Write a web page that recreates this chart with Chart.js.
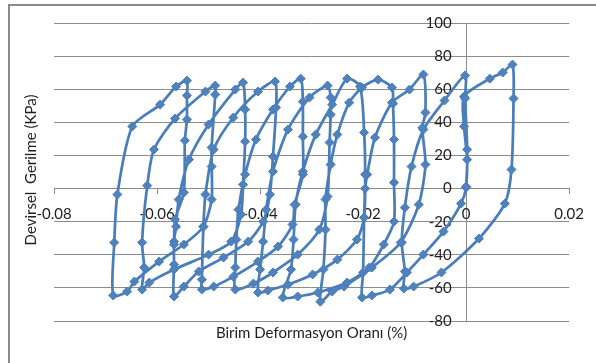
<!DOCTYPE html>
<html>
<head>
<meta charset="utf-8">
<script src="https://cdn.jsdelivr.net/npm/chart.js@4.4.1/dist/chart.umd.min.js"></script>
<style>
  html, body { margin: 0; padding: 0; background: #ffffff; }
  #wrap { position: relative; width: 596px; height: 363px; }
  canvas { display: block; }
</style>
</head>
<body>
<div id="wrap"><canvas id="c" width="596" height="363"></canvas></div>
<script>
// Cyclic loading record: each cycle = loading branch up to the peak,
// then unloading branch down towards the next trough.
// Strain (%) and deviator stress (kPa), in test order.
const strainC1 = [0.0000, 0.0002, -0.0004, -0.0004, 0.0046, 0.0071, 0.0090, 0.0092, 0.0088, 0.0075, 0.0025, -0.0048, -0.0102];
const stressC1 = [0.6, 17.5, 37.5, 55.6, 66.4, 70.1, 74.9, 54.4, 11.5, -9.1, -30.2, -50.7, -59.2];

const strainC2 = [-0.0121, -0.0119, -0.0125, -0.0119, -0.0106, -0.0083, -0.0042, -0.0002, -0.0002, 0.0002, 0.0000, -0.0010, -0.0044, -0.0083, -0.0115, -0.0148, -0.0183];
const stressC2 = [-60.4, -50.1, -32.6, -11.5, 13.3, 35.6, 53.2, 68.3, 54.4, 23.6, 1.2, -9.1, -26.0, -39.9, -50.7, -61.0, -64.6];

const strainC3 = [-0.0202, -0.0200, -0.0198, -0.0196, -0.0192, -0.0177, -0.0144, -0.0110, -0.0083, -0.0079, -0.0085, -0.0079, -0.0092, -0.0127, -0.0183, -0.0237, -0.0260];
const stressC3 = [-65.8, -50.7, -17.5, 0.0, 8.5, 30.8, 51.9, 59.8, 68.9, 45.9, 36.8, 14.5, -9.7, -32.6, -47.7, -59.2, -62.2];

const strainC4 = [-0.0283, -0.0277, -0.0273, -0.0273, -0.0263, -0.0250, -0.0227, -0.0202, -0.0171, -0.0144, -0.0142, -0.0140, -0.0140, -0.0140, -0.0160, -0.0188, -0.0231, -0.0288, -0.0327];
const stressC4 = [-68.3, -48.9, -24.8, -6.6, 14.5, 32.6, 51.9, 61.0, 65.8, 61.0, 51.3, 29.6, 3.6, -19.9, -33.8, -47.7, -56.8, -62.8, -65.2];

const strainC5 = [-0.0356, -0.0340, -0.0335, -0.0331, -0.0317, -0.0292, -0.0260, -0.0231, -0.0206, -0.0198, -0.0196, -0.0198, -0.0212, -0.0250, -0.0298, -0.0346, -0.0385];
const stressC5 = [-65.8, -48.9, -30.8, -9.7, 10.3, 32.6, 50.7, 66.4, 61.6, 33.8, 8.5, -17.5, -30.8, -42.9, -51.9, -58.0, -61.6];

const strainC6 = [-0.0404, -0.0400, -0.0394, -0.0388, -0.0375, -0.0346, -0.0304, -0.0269, -0.0263, -0.0263, -0.0265, -0.0269, -0.0285, -0.0327, -0.0375, -0.0413];
const stressC6 = [-62.8, -48.9, -32.0, -12.7, 10.3, 35.6, 55.0, 62.2, 55.0, 44.7, 27.8, -4.8, -24.8, -39.9, -50.7, -57.4];

const strainC7 = [-0.0448, -0.0448, -0.0446, -0.0442, -0.0429, -0.0408, -0.0375, -0.0342, -0.0321, -0.0317, -0.0317, -0.0317, -0.0333, -0.0337, -0.0365, -0.0404, -0.0452, -0.0490];
const stressC7 = [-61.0, -47.7, -30.8, -12.7, 8.5, 29.6, 47.7, 61.6, 66.4, 52.5, 31.4, 8.5, -9.7, -21.7, -35.0, -44.1, -53.2, -59.2];

const strainC8 = [-0.0513, -0.0513, -0.0510, -0.0506, -0.0490, -0.0452, -0.0404, -0.0371, -0.0369, -0.0375, -0.0381, -0.0394, -0.0423, -0.0471, -0.0519, -0.0548];
const stressC8 = [-61.0, -55.0, -23.0, -3.6, 23.6, 42.9, 58.6, 64.6, 48.9, 19.3, -3.6, -19.9, -32.0, -41.7, -50.1, -59.2];

const strainC9 = [-0.0567, -0.0567, -0.0567, -0.0563, -0.0558, -0.0538, -0.0500, -0.0448, -0.0433, -0.0429, -0.0429, -0.0433, -0.0437, -0.0456, -0.0500, -0.0567, -0.0615];
const stressC9 = [-65.2, -45.9, -32.0, -23.0, -6.6, 17.5, 38.7, 59.8, 64.0, 47.7, 28.4, 2.4, -15.7, -32.0, -39.9, -48.9, -56.8];

const strainC10 = [-0.0629, -0.0625, -0.0629, -0.0619, -0.0606, -0.0565, -0.0506, -0.0487, -0.0487, -0.0494, -0.0494, -0.0494, -0.0510, -0.0548, -0.0596, -0.0644, -0.0658];
const stressC10 = [-61.0, -47.7, -32.6, 1.8, 23.6, 42.3, 58.6, 62.2, 56.8, 24.8, 13.3, -6.6, -23.0, -33.8, -44.1, -56.2, -62.2];

const strainC11 = [-0.0685, -0.0683, -0.0677, -0.0648, -0.0594, -0.0563, -0.0542, -0.0542, -0.0542, -0.0546, -0.0548, -0.0565, -0.0567];
const stressC11 = [-64.6, -32.6, -3.6, 37.5, 50.7, 61.6, 65.2, 56.2, 41.7, 29.0, -2.4, -18.7, -33.8];

// Axis ticks
const strainTicks = [-0.08, -0.06, -0.04, -0.02, 0, 0.02];
const stressTicks = [-80, -60, -40, -20, 0, 20, 40, 60, 80, 100];

const xTitle = 'Birim Deformasyon Oranı (%)';
const yTitle = 'Devirsel  Gerilme (KPa)';

const cycles = [
  [strainC1, stressC1], [strainC2, stressC2], [strainC3, stressC3], [strainC4, stressC4],
  [strainC5, stressC5], [strainC6, stressC6], [strainC7, stressC7], [strainC8, stressC8],
  [strainC9, stressC9], [strainC10, stressC10], [strainC11, stressC11]
];
const path = [];
cycles.forEach(([xs, ys]) => xs.forEach((x, i) => path.push({ x: x, y: ys[i] })));

const gridColor = '#8c8c8c';
const textColor = '#1e1e1e';
const tickFont = { family: 'Lato', size: 15 };

// White background, left/top frame and the two axis titles
const frameAndTitles = {
  id: 'frameAndTitles',
  beforeDraw(chart) {
    const ctx = chart.ctx;
    ctx.save();
    ctx.fillStyle = '#ffffff';
    ctx.fillRect(0, 0, chart.width, chart.height);
    ctx.strokeStyle = '#8a8a8a';
    ctx.lineWidth = 2;
    ctx.beginPath();
    ctx.moveTo(9, chart.height);
    ctx.lineTo(9, 5);
    ctx.lineTo(chart.width, 5);
    ctx.stroke();
    ctx.restore();
  },
  afterDraw(chart) {
    const ctx = chart.ctx;
    const area = chart.chartArea;
    ctx.save();
    ctx.fillStyle = textColor;
    ctx.font = '15px Lato';
    ctx.textAlign = 'center';
    ctx.textBaseline = 'middle';
    ctx.fillText(xTitle, (area.left + area.right) / 2, 333);
    ctx.translate(31, 170);
    ctx.rotate(-Math.PI / 2);
    ctx.fillText(yTitle, 0, 0);
    ctx.restore();
  }
};

new Chart(document.getElementById('c'), {
  type: 'scatter',
  data: {
    datasets: [{
      data: path,
      showLine: true,
      borderColor: '#4a7ebb',
      backgroundColor: '#4f81bd',
      borderWidth: 2.75,
      tension: 0.25,
      pointStyle: 'rectRot',
      pointRadius: 4.5,
      pointBorderWidth: 1,
      pointBorderColor: '#4a7ebb',
      pointBackgroundColor: '#4f81bd'
    }]
  },
  options: {
    responsive: false,
    animation: false,
    devicePixelRatio: 1,
    layout: { padding: { left: 54, right: 22, top: 23, bottom: 42 } },
    plugins: { legend: { display: false }, tooltip: { enabled: false } },
    scales: {
      x: {
        type: 'linear',
        min: -0.08,
        max: 0.02,
        position: { y: 0 },
        afterBuildTicks: s => { s.ticks = strainTicks.map(v => ({ value: v })); },
        grid: {
          drawOnChartArea: true,
          color: c => (c.tick && c.tick.value === 0) ? gridColor : 'rgba(0,0,0,0)',
          tickColor: gridColor,
          tickLength: 5,
          lineWidth: 1
        },
        border: { display: true, color: gridColor },
        ticks: {
          font: tickFont,
          color: textColor,
          padding: 12,
          maxRotation: 0,
          autoSkip: false,
          callback: v => String(v)
        }
      },
      y: {
        type: 'linear',
        min: -80,
        max: 100,
        position: { x: -0.0028 },
        afterBuildTicks: s => { s.ticks = stressTicks.map(v => ({ value: v })); },
        grid: { color: gridColor, drawTicks: false, lineWidth: 1 },
        border: { display: false },
        ticks: {
          font: tickFont,
          color: textColor,
          padding: 0,
          autoSkip: false,
          callback: v => String(v)
        }
      }
    }
  },
  plugins: [frameAndTitles]
});
</script>
</body>
</html>
